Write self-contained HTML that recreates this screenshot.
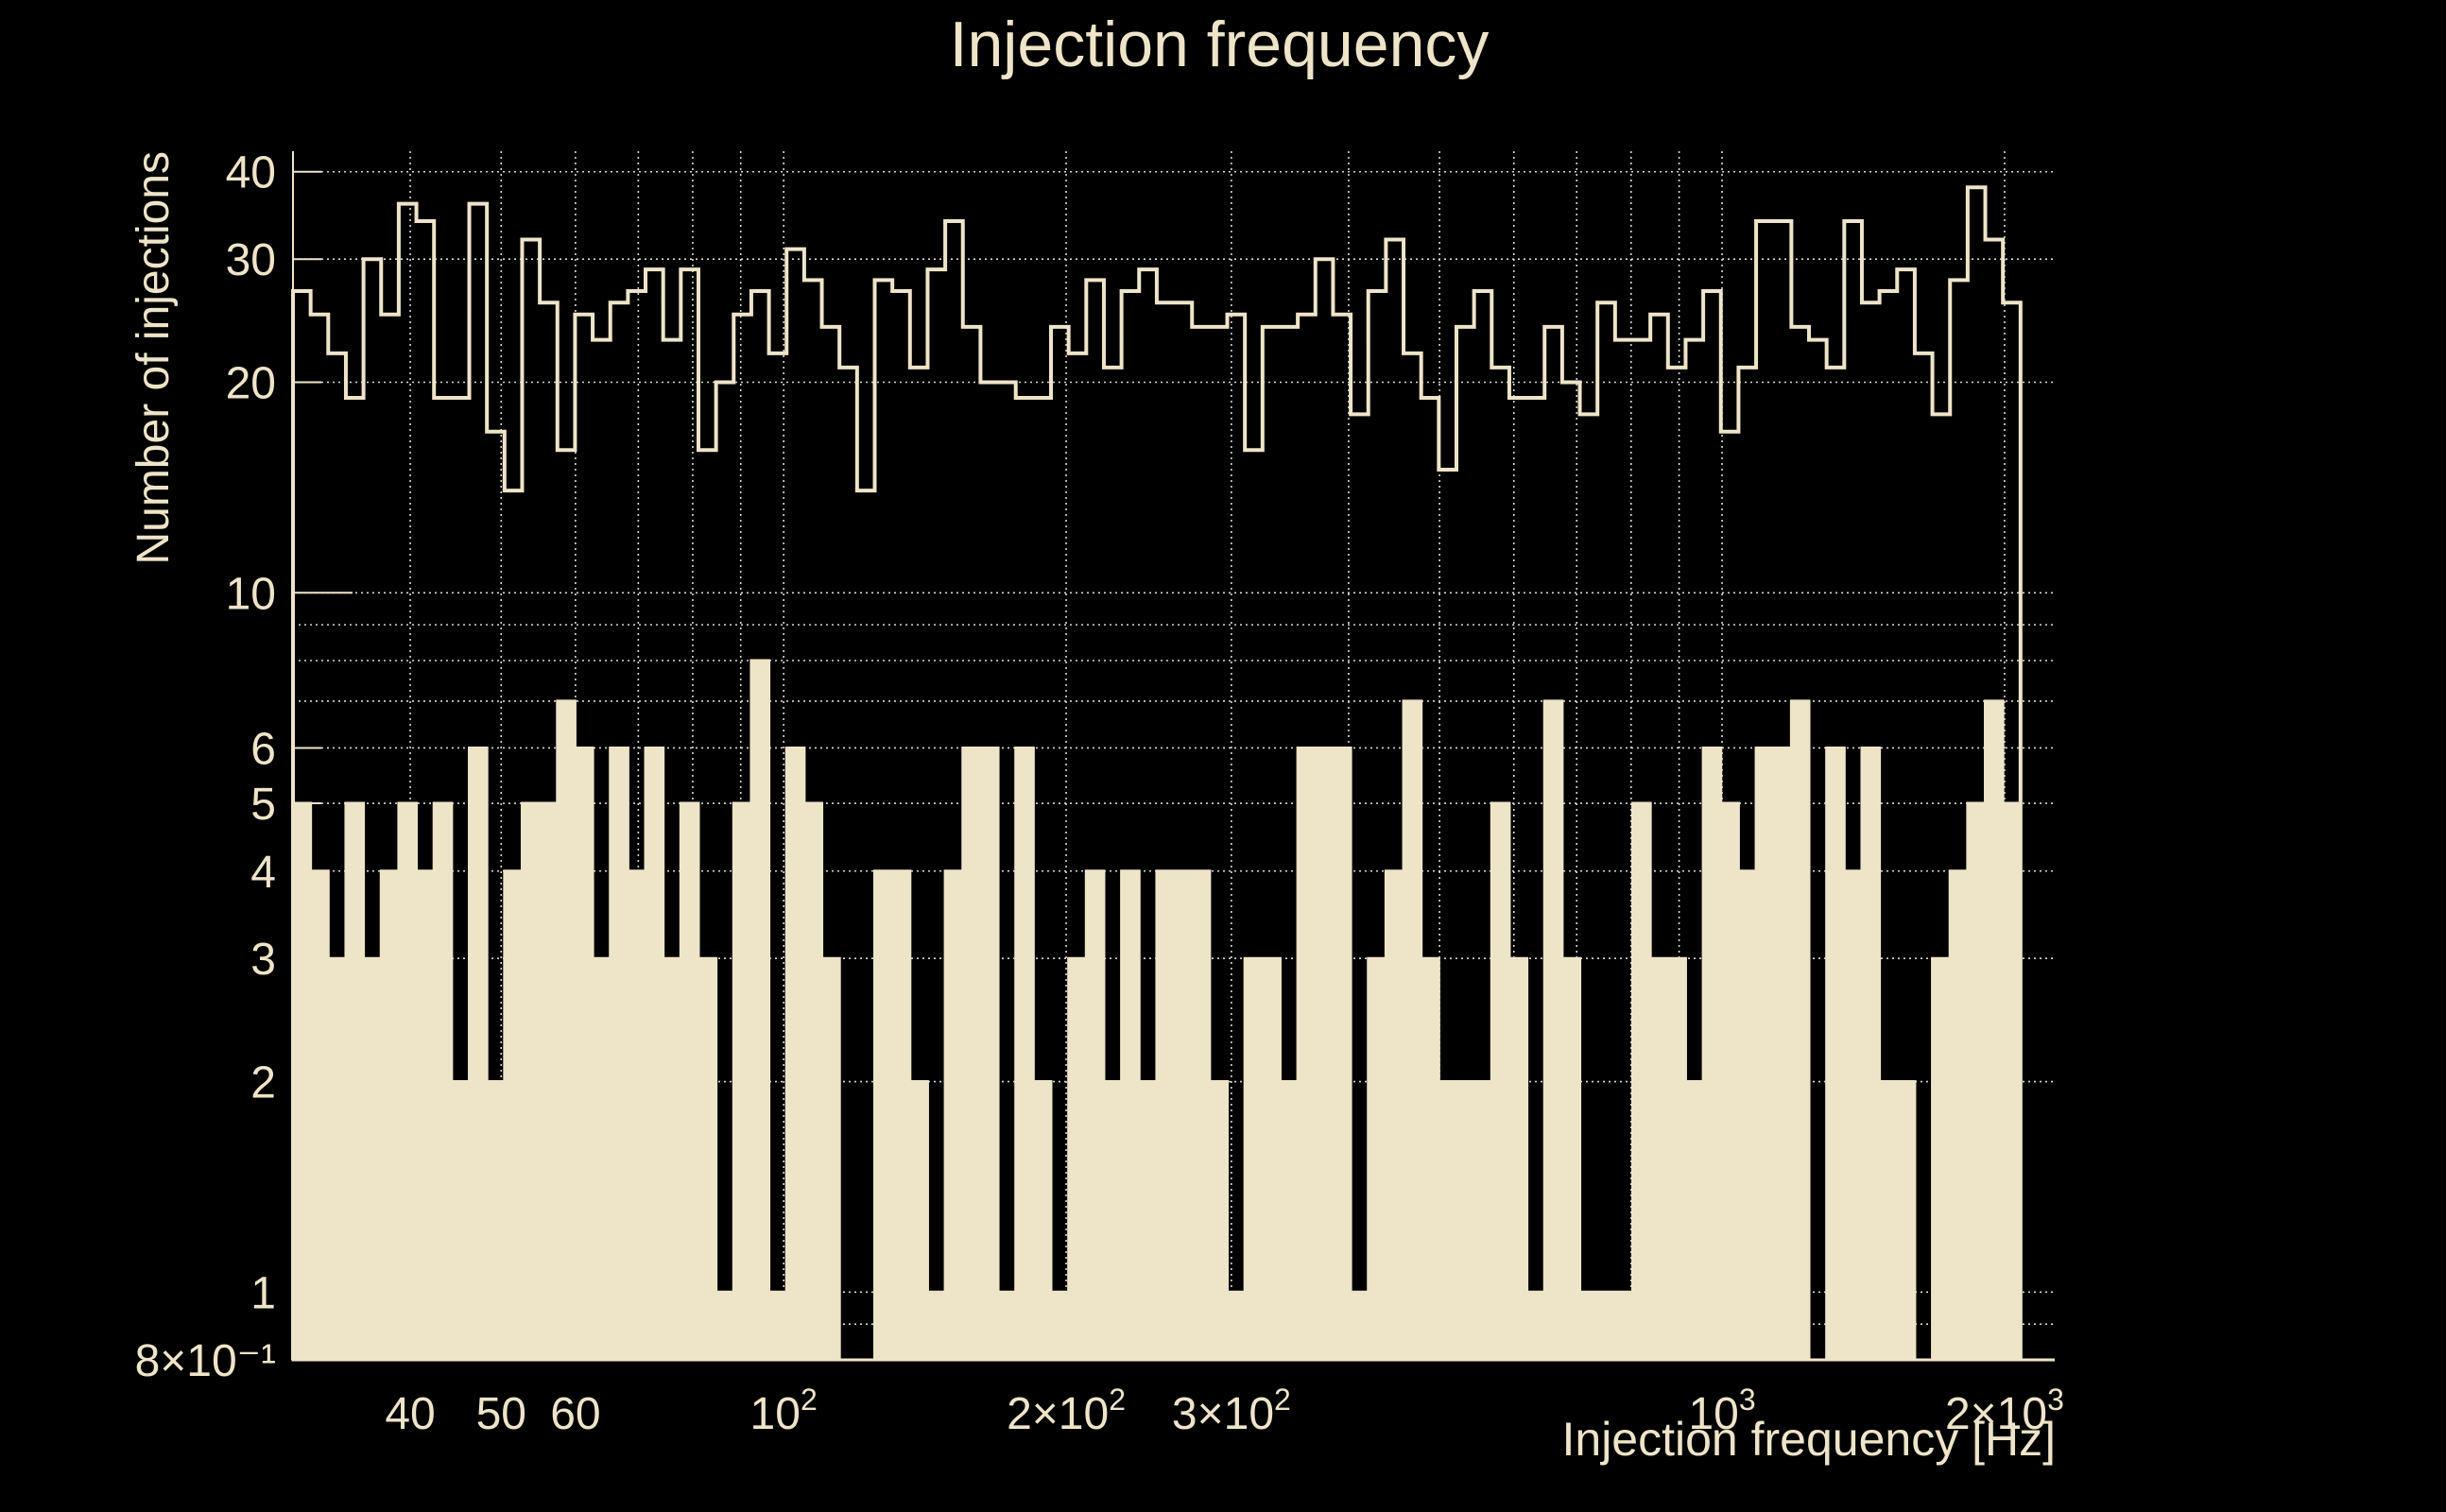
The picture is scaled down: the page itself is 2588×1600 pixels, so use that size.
<!DOCTYPE html>
<html><head><meta charset="utf-8"><style>
html,body{margin:0;padding:0;background:#000;}
svg{display:block;}
text{font-family:"Liberation Sans",sans-serif;fill:#EEE4C8;}
</style></head><body>
<svg id="chart" width="2588" height="1600" viewBox="0 0 2588 1600" xmlns="http://www.w3.org/2000/svg">
<rect x="0" y="0" width="2588" height="1600" fill="#000"/>
<text x="1290" y="70" font-size="68" text-anchor="middle">Injection frequency</text>
<text transform="translate(178,160) rotate(-90)" font-size="48" text-anchor="end">Number of injections</text>
<text x="2175" y="1540" font-size="50" text-anchor="end">Injection frequency [Hz]</text>
<g id="grid"></g>
<g id="marks"></g>
<g id="axes"></g>
</svg>
<script>
const allCounts = [27,25,22,19,30,25,36,34,19,19,36,17,14,32,26,16,25,23,26,27,29,23,29,16,20,25,27,22,31,28,24,21,14,28,27,21,29,34,24,20,20,19,19,24,22,28,21,27,29,26,26,24,24,25,16,24,24,25,30,25,18,27,32,22,19,15,24,27,21,19,19,24,20,18,26,23,23,25,21,23,27,17,21,34,34,24,23,21,34,26,27,29,22,18,28,38,32,26];
const selectedCounts = [5,4,3,5,3,4,5,4,5,2,6,2,4,5,5,7,6,3,6,4,6,3,5,3,1,5,8,1,6,5,3,0,0,4,4,2,1,4,6,6,1,6,2,1,3,4,2,4,2,4,4,4,2,1,3,3,2,6,6,6,1,3,4,7,3,2,2,2,5,3,1,7,3,1,1,1,5,3,3,2,6,5,4,6,6,7,0,6,4,6,2,2,0,3,4,5,7,5];
const binRange = [30, 2080];
const xDomain = [30, 2262];
const yDomain = [0.8, 42.8];
const yTickValues = [0.8, 1, 2, 3, 4, 5, 6, 10, 20, 30, 40];
const yTickLabels = ["8×10⁻¹","1","2","3","4","5","6","10","20","30","40"];
const yGridValues = [0.9,1,2,3,4,5,6,7,8,9,10,20,30,40];
const xTickValues = [40,50,60,100,200,300,1000,2000];
const xTickLabels = [["40",""],["50",""],["60",""],["10","2"],["2×10","2"],["3×10","2"],["10","3"],["2×10","3"]];
const xGridValues = [40,50,60,70,80,90,100,200,300,400,500,600,700,800,900,1000,2000];

const NS = "http://www.w3.org/2000/svg";
const PL = 310, PR = 2174, PT = 160, PB = 1439;
const L10 = Math.log10;
function xs(f){ return PL + (L10(f) - L10(xDomain[0])) / (L10(xDomain[1]) - L10(xDomain[0])) * (PR - PL); }
function ys(v){ if (v <= 0) return PB; return PB - (L10(v) - L10(yDomain[0])) / (L10(yDomain[1]) - L10(yDomain[0])) * (PB - PT); }
function mk(tag, attrs, parent){ const e = document.createElementNS(NS, tag); for (const k in attrs) e.setAttribute(k, attrs[k]); parent.appendChild(e); return e; }
const C = "#EEE4C8";
const grid = document.getElementById("grid"), marks = document.getElementById("marks"), axes = document.getElementById("axes");

yGridValues.forEach(v => {
  const l = mk("line", {x1: PL, x2: PR, y1: ys(v), y2: ys(v), stroke: "#d8d8d8", "stroke-width": 1.6, "stroke-dasharray": "2 4"}, grid);
  
  
});
xGridValues.forEach(f => {
  const l = mk("line", {x1: xs(f), x2: xs(f), y1: PT, y2: PB, stroke: "#d8d8d8", "stroke-width": 1.6, "stroke-dasharray": "2 4"}, grid);
  
  
});

const n = allCounts.length;
function edge(k){ return binRange[0] * Math.pow(binRange[1] / binRange[0], k / n); }

let d = "M" + xs(edge(0)) + "," + PB;
selectedCounts.forEach((v, i) => {
  d += " L" + xs(edge(i)) + "," + ys(v) + " L" + xs(edge(i + 1)) + "," + ys(v);
});
d += " L" + xs(edge(selectedCounts.length)) + "," + PB + " Z";
const fillPath = mk("path", {d: d, fill: C, stroke: C, "stroke-width": 3}, marks);



let d2 = "M" + xs(edge(0)) + "," + PB;
allCounts.forEach((v, i) => {
  d2 += " L" + xs(edge(i)) + "," + ys(v) + " L" + xs(edge(i + 1)) + "," + ys(v);
});
d2 += " L" + xs(edge(n)) + "," + PB;
const outPath = mk("path", {d: d2, fill: "none", stroke: C, "stroke-width": 4}, marks);



const bl = mk("line", {x1: PL, x2: PR, y1: PB, y2: PB, stroke: C, "stroke-width": 3}, axes);


const ll = mk("line", {x1: PL, x2: PL, y1: PT, y2: PB, stroke: C, "stroke-width": 2}, axes);



yTickValues.forEach((v, i) => {
  const len = v === 10 ? 63 : 30;
  const tk = mk("line", {x1: PL, x2: PL + len, y1: ys(v), y2: ys(v), stroke: C, "stroke-width": 2}, axes);
  
  
  const t = mk("text", {x: 292, y: ys(v) + 17, "font-size": 48, "text-anchor": "end"}, axes);
  t.textContent = yTickLabels[i];
  
  
});

xTickValues.forEach((f, i) => {
  const t = mk("text", {x: xs(f), y: 1512, "font-size": 48, "text-anchor": "middle"}, axes);
  
  
  const base = document.createElementNS(NS, "tspan");
  base.textContent = xTickLabels[i][0];
  t.appendChild(base);
  if (xTickLabels[i][1]) {
    const sup = document.createElementNS(NS, "tspan");
    sup.setAttribute("dy", "-20");
    sup.setAttribute("font-size", "32");
    sup.textContent = xTickLabels[i][1];
    t.appendChild(sup);
  }
});
</script>
</body></html>
